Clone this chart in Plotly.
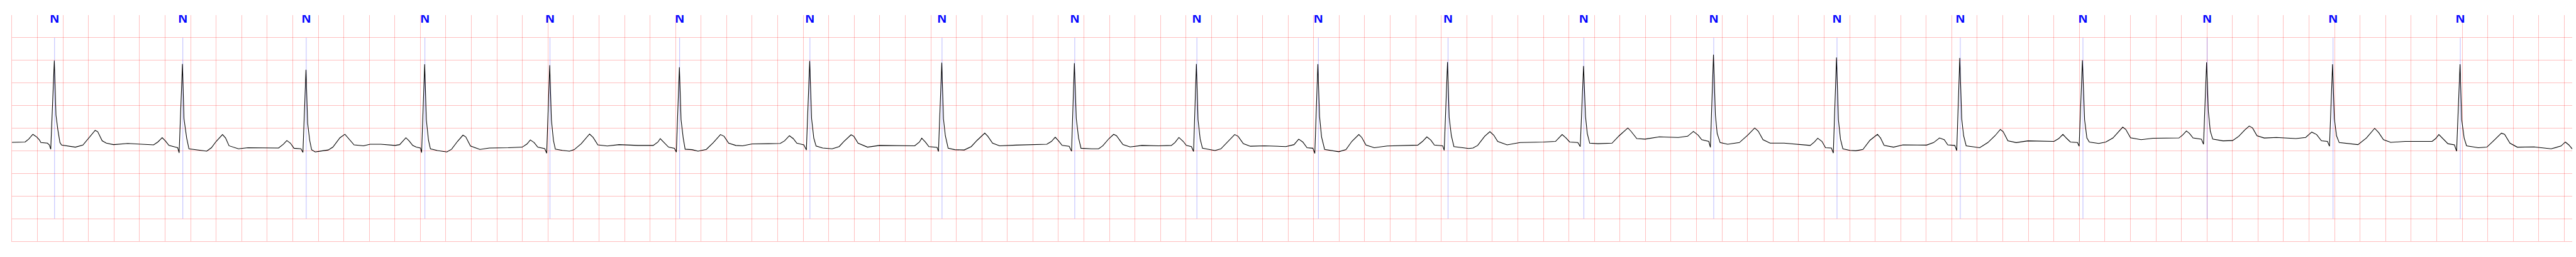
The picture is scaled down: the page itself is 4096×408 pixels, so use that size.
import plotly.graph_objects as go

# ECG trace, time in seconds, amplitude in mV (vertices)
time_s = [
    0.000, 0.057, 0.103, 0.131, 0.164, 0.195, 0.214, 0.227, 0.278, 0.293, 0.304, 0.332, 0.345, 0.360, 0.376, 0.389,
    0.445, 0.497, 0.556, 0.602, 0.652, 0.672, 0.707, 0.740, 0.796, 0.907, 1.018, 1.110, 1.143, 1.177, 1.202, 1.230,
    1.276, 1.299, 1.310, 1.336, 1.348, 1.369, 1.387, 1.443, 1.526, 1.563, 1.600, 1.650, 1.674, 1.701, 1.775, 1.849,
    1.942, 2.089, 2.126, 2.154, 2.182, 2.210, 2.265, 2.280, 2.304, 2.317, 2.333, 2.348, 2.376, 2.422, 2.478, 2.515,
    2.570, 2.609, 2.635, 2.681, 2.755, 2.806,
    2.891, 3.002, 3.038, 3.057, 3.087, 3.112, 3.140, 3.168, 3.201, 3.210, 3.234, 3.247, 3.264, 3.279, 3.334, 3.408,
    3.445, 3.491, 3.534, 3.556, 3.593, 3.667, 3.741, 3.889, 3.999, 4.036, 4.062, 4.092, 4.120, 4.175, 4.190, 4.214,
    4.227, 4.243, 4.258, 4.314, 4.369, 4.406, 4.461, 4.526, 4.554, 4.591, 4.665, 4.757, 4.905, 5.025, 5.062, 5.080,
    5.108, 5.145, 5.191, 5.206, 5.230, 5.243, 5.260, 5.275, 5.330, 5.376, 5.441, 5.496, 5.552, 5.580, 5.616, 5.672,
    5.725, 5.799, 5.928, 6.020, 6.054, 6.092, 6.122, 6.150, 6.205, 6.225, 6.251, 6.266, 6.283, 6.301, 6.353, 6.427,
    6.482, 6.519, 6.575, 6.597, 6.630, 6.704, 6.797, 6.944, 7.074, 7.111, 7.129, 7.157, 7.185, 7.249, 7.260, 7.286,
    7.299, 7.314, 7.336, 7.388, 7.462, 7.517, 7.563, 7.623, 7.647, 7.684, 7.739, 7.868, 8.109, 8.145, 8.175, 8.201,
    8.229, 8.284, 8.303, 8.325, 8.340, 8.358, 8.377, 8.460, 8.515, 8.548,
    8.596, 8.633, 8.655, 8.706, 8.762, 8.854, 8.984, 9.085, 9.113, 9.144, 9.178, 9.202, 9.242, 9.259, 9.281, 9.294,
    9.311, 9.329, 9.390, 9.427, 9.473, 9.520, 9.581, 9.608, 9.649, 9.704, 9.815, 9.982, 10.046, 10.083, 10.115, 10.148,
    10.194, 10.209, 10.233, 10.246, 10.262, 10.286, 10.333, 10.397, 10.453, 10.499, 10.554, 10.577, 10.610, 10.675,
    10.776, 11.016, 11.053, 11.087, 11.118, 11.146, 11.211, 11.223, 11.249, 11.262, 11.279, 11.299, 11.368, 11.414,
    11.448, 11.485, 11.540, 11.581, 11.611, 11.642, 11.716, 11.818, 12.002, 12.095, 12.147, 12.178, 12.206, 12.270,
    12.289, 12.315, 12.330, 12.344, 12.363, 12.428, 12.538, 12.594, 12.662, 12.686, 12.732, 12.797, 12.908, 13.056,
    13.130, 13.176, 13.213, 13.241, 13.296, 13.309, 13.333, 13.348, 13.362, 13.385, 13.444, 13.536, 13.601, 13.656,
    13.684, 13.721, 13.777, 13.887, 14.091, 14.124, 14.150, 14.183, 14.211, 14.257, 14.272,
    14.297, 14.312, 14.328, 14.347, 14.402, 14.448, 14.504, 14.559, 14.618, 14.642, 14.670, 14.744, 14.818, 15.003,
    15.058, 15.104, 15.141, 15.169, 15.224, 15.239, 15.263, 15.278, 15.293, 15.313, 15.372, 15.419, 15.483, 15.539,
    15.581, 15.603, 15.640, 15.705, 15.797, 16.001, 16.038, 16.071, 16.102, 16.130, 16.185, 16.198, 16.224, 16.241,
    16.259, 16.278, 16.352, 16.407, 16.463, 16.540, 16.564, 16.601, 16.684, 16.777, 16.980, 17.008, 17.039, 17.063,
    17.091, 17.156,
    17.173, 17.197, 17.211, 17.226, 17.245, 17.325, 17.401, 17.449, 17.496, 17.531, 17.557, 17.592, 17.649, 17.744,
    17.897, 17.973, 18.021, 18.059, 18.097, 18.144, 18.160, 18.184, 18.198, 18.215, 18.236, 18.316, 18.383, 18.449,
    18.514, 18.545, 18.583, 18.640, 18.754, 18.964, 18.992, 19.017, 19.050, 19.088, 19.139, 19.156, 19.183, 19.196,
    19.215, 19.234, 19.326, 19.393, 19.440, 19.507, 19.532, 19.574, 19.631, 19.764, 19.897, 19.974, 20.008, 20.035,
    20.069,
]
amp_mv = [
    0.187, 0.194, 0.194, 0.258, 0.364, 0.303, 0.245, 0.182, 0.169, 0.131, 0.035, 1.992, 0.788, 0.460, 0.182, 0.126,
    0.106, 0.081, 0.126, 0.278, 0.452, 0.422, 0.220, 0.169, 0.136, 0.162, 0.144, 0.131, 0.194, 0.290, 0.220, 0.119,
    0.086, 0.068, -0.045, 1.919, 0.712, 0.283, 0.043, 0.025, -0.008, 0.068, 0.207, 0.359, 0.283, 0.111, 0.043, 0.068,
    0.068, 0.061, 0.144, 0.227, 0.169, 0.056, 0.043, -0.035, 1.793, 0.611, 0.232, 0.025, -0.025, -0.008, 0.018, 0.081,
    0.288, 0.366, 0.283, 0.131, 0.111, 0.144,
    0.144, 0.119, 0.136, 0.194, 0.288, 0.220, 0.119, 0.081, 0.061, -0.040, 1.912, 0.687, 0.232, 0.043, 0.005, -0.025,
    0.035, 0.207, 0.346, 0.308, 0.106, 0.030, 0.061, 0.068, 0.081, 0.152, 0.240, 0.182, 0.081, 0.048, -0.053, 1.894,
    0.687, 0.232, 0.035, 0.010, -0.008, 0.025, 0.157, 0.371, 0.295, 0.131, 0.106, 0.136, 0.119, 0.119, 0.194, 0.270,
    0.194, 0.081, 0.056, -0.028, 1.848, 0.687, 0.283, 0.035, 0.025, -0.008, 0.030, 0.182, 0.359, 0.321, 0.169, 0.119,
    0.111, 0.152, 0.157, 0.162, 0.220, 0.333, 0.270, 0.169, 0.131, 0.018, 1.987, 0.712, 0.283, 0.106, 0.061, 0.043,
    0.093, 0.207, 0.354, 0.321, 0.169, 0.081, 0.119, 0.111, 0.111, 0.194, 0.278, 0.194, 0.093, 0.076, -0.015, 1.949,
    0.712, 0.333, 0.056, 0.025, 0.018, 0.093, 0.232, 0.391, 0.321, 0.169, 0.111, 0.126, 0.144, 0.207, 0.301, 0.220,
    0.119, 0.101, -0.010, 1.937, 0.712, 0.283, 0.056, 0.043, 0.043, 0.111,
    0.270, 0.364, 0.333, 0.136, 0.086, 0.119, 0.111, 0.119, 0.182, 0.295, 0.207, 0.119, 0.093, -0.015, 1.919, 0.687,
    0.258, 0.056, 0.030, 0.005, 0.043, 0.182, 0.359, 0.321, 0.157, 0.101, 0.111, 0.093, 0.136, 0.258, 0.194, 0.068,
    0.056, -0.058, 1.917, 0.763, 0.308, 0.030, 0.005, -0.020, 0.025, 0.207, 0.359, 0.295, 0.126, 0.068,
    0.106, 0.126, 0.207, 0.308, 0.237, 0.126, 0.111, 0.010, 1.962, 0.737, 0.333, 0.093, 0.068, 0.051,
    0.061, 0.119, 0.321, 0.422, 0.346, 0.207, 0.131, 0.182, 0.194, 0.207, 0.359, 0.283, 0.194, 0.182,
    0.093, 1.874, 0.763, 0.384, 0.169, 0.157, 0.169, 0.333, 0.505, 0.434, 0.270, 0.258, 0.308, 0.295,
    0.321, 0.429, 0.346, 0.245, 0.207, 0.076, 2.126, 0.788, 0.384, 0.182, 0.144, 0.182, 0.346, 0.505,
    0.434, 0.245, 0.169, 0.169, 0.119, 0.194, 0.278, 0.207, 0.068, 0.061, -0.051,
    2.063, 0.687, 0.258, 0.043, 0.010, 0.000, 0.030, 0.232, 0.364, 0.283, 0.119, 0.081, 0.131, 0.126,
    0.182, 0.283, 0.245, 0.131, 0.119, 0.005, 2.051, 0.712, 0.333, 0.111, 0.086, 0.068, 0.182, 0.333,
    0.472, 0.422, 0.220, 0.182, 0.220, 0.207, 0.270, 0.364, 0.270, 0.194, 0.182, 0.101, 2.000, 0.687,
    0.283, 0.194, 0.162, 0.194, 0.283, 0.523, 0.472, 0.288, 0.245, 0.278, 0.283, 0.346, 0.439, 0.384,
    0.283, 0.258,
    0.144, 1.955, 0.864, 0.434, 0.258, 0.220, 0.227, 0.321, 0.460, 0.548, 0.505, 0.333, 0.283, 0.295,
    0.270, 0.295, 0.414, 0.359, 0.220, 0.207, 0.101, 1.912, 0.712, 0.333, 0.182, 0.157, 0.136, 0.283,
    0.497, 0.404, 0.245, 0.187, 0.207, 0.207, 0.270, 0.359, 0.263, 0.157, 0.131, -0.008, 1.912, 0.687,
    0.283, 0.111, 0.068, 0.081, 0.207, 0.389, 0.364, 0.169, 0.081, 0.086, 0.043, 0.106, 0.194, 0.131,
    0.018,
]

# beat annotations
beat_times = [0.334, 1.339, 2.306, 3.236, 4.216, 5.232, 6.253, 7.288, 8.328, 9.285,
              10.237, 11.253, 12.317, 13.335, 14.301, 15.267, 16.228, 17.201, 18.188, 19.185]
beat_labels = ["N"] * 20

x_range = [0, 20.062]
y_range = [-2.0, 3.0]
marker_span = [-1.5, 2.5]
label_level = 2.9

S = 4096 / 7522

# annotation lines
lx, ly = [], []
for t in beat_times:
    lx += [t, t, None]
    ly += [marker_span[0], marker_span[1], None]

fig = go.Figure()
fig.add_trace(go.Scatter(x=lx, y=ly, mode="lines",
                         line=dict(color="rgba(0,0,255,0.5)", width=1.0 * S),
                         hoverinfo="skip", showlegend=False))
fig.add_trace(go.Scatter(x=time_s, y=amp_mv, mode="lines",
                         line=dict(color="black", width=2.0 * S),
                         showlegend=False))
fig.add_trace(go.Scatter(x=beat_times, y=[label_level] * len(beat_times), mode="text",
                         text=beat_labels,
                         textfont=dict(family="Liberation Sans, Arial, sans-serif", size=37 * S,
                                       color="#0000ff", weight="bold"),
                         showlegend=False, hoverinfo="skip"))

grid_col = "rgba(255,0,0,0.25)"
fig.update_layout(
    width=4096, height=408, autosize=False,
    margin=dict(l=34 * S, r=11 * S, t=44 * S, b=46 * S, pad=0),
    paper_bgcolor="white", plot_bgcolor="white",
    showlegend=False,
    xaxis=dict(range=x_range, dtick=0.2, tick0=0, showgrid=True, gridcolor=grid_col,
               gridwidth=1.6 * S, zeroline=False, showticklabels=False, ticks="",
               showline=True, linecolor=grid_col, linewidth=1.6 * S, mirror=False),
    yaxis=dict(range=y_range, dtick=0.5, tick0=0, showgrid=True, gridcolor=grid_col,
               gridwidth=1.6 * S, zeroline=False, showticklabels=False, ticks="",
               showline=True, linecolor=grid_col, linewidth=1.6 * S, mirror=False),
)

fig.write_html("out.html", config={"displayModeBar": False},
               post_script="document.body.style.margin='0';")
